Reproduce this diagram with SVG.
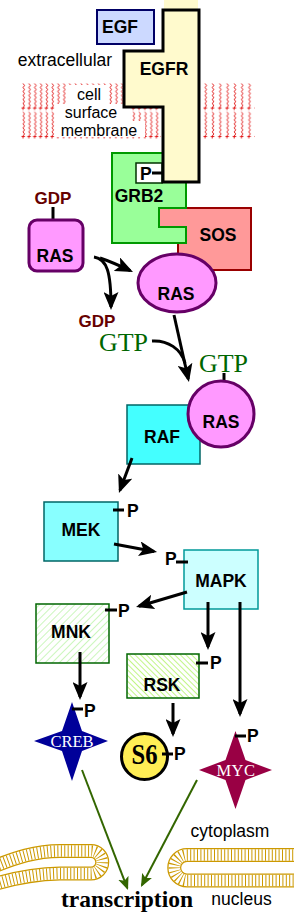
<svg xmlns="http://www.w3.org/2000/svg" width="294" height="920" viewBox="0 0 294 920">
<style>
.lbl{font-family:"Liberation Sans",Arial,sans-serif;font-weight:bold;font-size:17.5px;text-anchor:middle;fill:#000}
.txt{font-family:"Liberation Sans",Arial,sans-serif;font-size:17.5px;text-anchor:middle;fill:#000}
.mem{font-family:"Liberation Sans",Arial,sans-serif;font-size:16px;text-anchor:middle;fill:#000}
.p{font-family:"Liberation Sans",Arial,sans-serif;font-weight:bold;font-size:17.5px;fill:#000}
.tick{stroke:#000;stroke-width:3}
.gdp{font-family:"Liberation Sans",Arial,sans-serif;font-weight:bold;font-size:17px;fill:#660000;text-anchor:middle}
.gtp{font-family:"Liberation Serif","Times New Roman",serif;font-size:26px;fill:#006600}
.star{font-family:"Liberation Serif","Times New Roman",serif;font-size:16.5px;fill:#fff;text-anchor:middle}
.ras{fill:#ff99ff;stroke:#660066;stroke-width:3}
.arr{stroke:#000;stroke-width:3;fill:none;marker-end:url(#ah)}
.line{stroke:#000;stroke-width:3;fill:none}
.garr{stroke:#336600;stroke-width:2;fill:none;marker-end:url(#gh)}
.nuc1{fill:none;stroke:#cc9900;stroke-width:14}
.nuc2{fill:none;stroke:#fff;stroke-width:11.5}
.nuc3{fill:none;stroke:#cc9900;stroke-width:11.5;stroke-dasharray:1 2.4}
</style>
<defs>
<marker id="ah" markerUnits="userSpaceOnUse" markerWidth="18" markerHeight="15" viewBox="0 0 18 15" refX="15" refY="7.5" orient="auto"><path d="M0,0 L18,7.5 L0,15 L4,7.5 z" fill="#000"/></marker>
<marker id="gh" markerUnits="userSpaceOnUse" markerWidth="13" markerHeight="11" viewBox="0 0 13 11" refX="11" refY="5.5" orient="auto"><path d="M0,0 L13,5.5 L0,11 L3,5.5 z" fill="#336600"/></marker>
<pattern id="memL" x="21" y="83" width="5.8" height="28.5" patternUnits="userSpaceOnUse"><path d="M2,0.5 l1.5,2 -1.5,2 1.5,2 -1.5,2 1.5,2 -1.5,2 1.5,2 -1.5,2 1.5,2 -1.5,2 1.5,2 -1.5,2 M0.5,25 h3.5 M2,25 v2" stroke="#dd0000" stroke-width="0.9" fill="none"/></pattern>
<pattern id="memR" x="203" y="83" width="7.3" height="28.5" patternUnits="userSpaceOnUse"><path d="M2,0.5 l1.5,2 -1.5,2 1.5,2 -1.5,2 1.5,2 -1.5,2 1.5,2 -1.5,2 1.5,2 -1.5,2 1.5,2 -1.5,2 M0.5,25 h3.5 M2,25 v2" stroke="#dd0000" stroke-width="0.9" fill="none"/></pattern>
<pattern id="hMNK" width="5" height="5" patternUnits="userSpaceOnUse" patternTransform="rotate(45)"><line x1="0" y1="0" x2="0" y2="5" stroke="#a8f090" stroke-width="1.2"/></pattern>
<pattern id="hRSK" width="4" height="4" patternUnits="userSpaceOnUse" patternTransform="rotate(-45)"><line x1="0" y1="0" x2="0" y2="4" stroke="#99ee33" stroke-width="1.2"/></pattern>
</defs>

<g id="membrane">
<rect x="21" y="83" width="140" height="57" fill="url(#memL)"/>
<rect x="203" y="83" width="52" height="57" fill="url(#memR)"/>
<rect x="66" y="85" width="42" height="19" fill="#fff"/>
<rect x="55" y="104" width="75" height="33" fill="#fff"/>
<rect x="130" y="121" width="15" height="16" fill="#fff"/>
<text class="txt" x="65" y="66">extracellular</text>
<text class="mem" x="89" y="100">cell</text>
<text class="mem" x="91" y="118">surface</text>
<text class="mem" x="99" y="136">membrane</text>
</g>

<g id="egf">
<rect x="97" y="10" width="57" height="34" fill="#ccd9ff" stroke="#000066" stroke-width="2"/>
<text class="lbl" x="120" y="33">EGF</text>
</g>

<g id="sos">
<polygon points="159,208 251,208 251,270 178,270 178,243 186,243 186,227 159,227" fill="#ff9999" stroke="#990000" stroke-width="2"/>
<text class="lbl" x="218" y="241">SOS</text>
</g>

<g id="grb2">
<polygon points="112,153 186,153 186,208 159,208 159,227 186,227 186,243 112,243" fill="#99ff99" stroke="#009900" stroke-width="2"/>
<text class="lbl" x="139" y="202">GRB2</text>
<rect x="136" y="163" width="26" height="20" fill="#fff" stroke="#003300" stroke-width="1.5"/>
<text class="p" x="140" y="180">P</text>
<line class="tick" x1="152" y1="173" x2="164" y2="173"/>
</g>

<g id="egfr">
<rect x="164" y="0" width="34" height="9" fill="#fffacd"/>
<polygon points="163,10 199,10 199,182 163,182 163,107 124,107 124,51 163,51" fill="#fffacd" stroke="#000" stroke-width="3"/>
<text class="lbl" x="164" y="75">EGFR</text>
</g>

<g id="ras-gdp">
<text class="gdp" x="53" y="204">GDP</text>
<line class="line" x1="53" y1="207" x2="53" y2="225"/>
<rect class="ras" x="29" y="220" width="54" height="51" rx="8"/>
<text class="lbl" x="55" y="262">RAS</text>
</g>

<g id="ras">
<ellipse class="ras" cx="177" cy="283" rx="39" ry="29"/>
<text class="lbl" x="176" y="300">RAS</text>
</g>

<g id="gdp">
<text class="gdp" x="97" y="327">GDP</text>
</g>

<g id="gtp">
<text class="gtp" x="99" y="351" textLength="49" lengthAdjust="spacingAndGlyphs">GTP</text>
</g>

<g id="raf">
<rect x="127" y="405" width="73" height="59" fill="#44ffff" stroke="#006666" stroke-width="1.5"/>
<text class="lbl" x="162" y="443">RAF</text>
</g>

<g id="ras-gtp">
<text class="gtp" x="199" y="372" textLength="49" lengthAdjust="spacingAndGlyphs">GTP</text>
<line class="line" x1="224" y1="373" x2="224" y2="391"/>
<circle class="ras" cx="221" cy="414" r="33"/>
<text class="lbl" x="221" y="428">RAS</text>
</g>

<g id="mek">
<rect x="44" y="502" width="74" height="59" fill="#88ffff" stroke="#006666" stroke-width="1.5"/>
<text class="lbl" x="81" y="536">MEK</text>
<line class="tick" x1="113" y1="510" x2="124" y2="510"/>
<text class="p" x="127" y="517">P</text>
</g>

<g id="mapk">
<rect x="184" y="550" width="74" height="59" fill="#ccffff" stroke="#009999" stroke-width="1.5"/>
<text class="lbl" x="221" y="587">MAPK</text>
<text class="p" x="165" y="565">P</text>
<line class="tick" x1="176" y1="562" x2="188" y2="562"/>
</g>

<g id="mnk">
<rect x="36" y="604" width="73" height="59" fill="#fff" stroke="none"/>
<rect x="36" y="604" width="73" height="59" fill="url(#hMNK)" stroke="#006600" stroke-width="1.5"/>
<text class="lbl" x="71" y="638">MNK</text>
<line class="tick" x1="105" y1="610" x2="117" y2="610"/>
<text class="p" x="118" y="617">P</text>
</g>

<g id="rsk">
<rect x="127" y="654" width="72" height="44" fill="#fff" stroke="none"/>
<rect x="127" y="654" width="72" height="44" fill="url(#hRSK)" stroke="#006600" stroke-width="1.5"/>
<text class="lbl" x="162" y="691">RSK</text>
<line class="tick" x1="196" y1="663" x2="208" y2="663"/>
<text class="p" x="210" y="669">P</text>
</g>

<g id="creb">
<polygon points="72,702 82,731 108,741 82,751 72,781 62,751 34,741 62,731" fill="#000099"/>
<text class="star" x="72" y="747">CREB</text>
<line class="tick" x1="72" y1="709" x2="83" y2="709"/>
<text class="p" x="84" y="717">P</text>
</g>

<g id="s6">
<circle cx="144.5" cy="756.5" r="23" fill="#ffee55" stroke="#000" stroke-width="3"/>
<text x="144.5" y="764" font-family="'Liberation Serif','Times New Roman',serif" font-weight="bold" font-size="29" text-anchor="middle" textLength="26" lengthAdjust="spacingAndGlyphs">S6</text>
<line class="tick" x1="162" y1="754" x2="173" y2="754"/>
<text class="p" x="174" y="760">P</text>
</g>

<g id="myc">
<polygon points="235.5,731 245.5,760 272,770 245.5,780 235.5,809 225.5,780 199,770 225.5,760" fill="#990044"/>
<text class="star" x="236" y="776" font-size="17.5" letter-spacing="0.5">MYC</text>
<line class="tick" x1="235" y1="736" x2="246" y2="736"/>
<text class="p" x="247" y="742">P</text>
</g>

<g id="nucleus">
<path class="nuc1" d="M-5,866 C15,858 35,851 60,851 L91,851 A11.25,11.25 0 0 1 91,873.5 L60,873.5 C35,874 15,878 -5,884"/>
<path class="nuc2" d="M-5,866 C15,858 35,851 60,851 L91,851 A11.25,11.25 0 0 1 91,873.5 L60,873.5 C35,874 15,878 -5,884"/>
<path class="nuc3" d="M-5,866 C15,858 35,851 60,851 L91,851 A11.25,11.25 0 0 1 91,873.5 L60,873.5 C35,874 15,878 -5,884"/>
<path class="nuc1" d="M300,855 L187,855 A12.75,12.75 0 0 0 187,880.5 L300,880.5"/>
<path class="nuc2" d="M300,855 L187,855 A12.75,12.75 0 0 0 187,880.5 L300,880.5"/>
<path class="nuc3" d="M300,855 L187,855 A12.75,12.75 0 0 0 187,880.5 L300,880.5"/>
<text class="txt" x="230" y="837">cytoplasm</text>
<text class="txt" x="241.5" y="905">nucleus</text>
<text x="127" y="907" font-family="'Liberation Serif','Times New Roman',serif" font-weight="bold" font-size="23.5" text-anchor="middle" textLength="132" lengthAdjust="spacing">transcription</text>
</g>

<g id="connectors">
<path class="arr" d="M94,257 C107,259 111,272 111,307"/>
<path class="arr" d="M100,258 Q112,262 130.3,270.7"/>
<path class="line" d="M152,341 C168,340 181,349 185,363"/>
<line class="arr" x1="174" y1="315" x2="188.3" y2="379"/>
<line class="arr" x1="132" y1="458" x2="120" y2="490.2"/>
<line class="arr" x1="114" y1="544" x2="154.1" y2="551.5"/>
<line class="arr" x1="187" y1="592" x2="138.9" y2="606.2"/>
<line class="arr" x1="208" y1="602" x2="208" y2="647"/>
<line class="arr" x1="240" y1="602" x2="240" y2="714"/>
<line class="arr" x1="80" y1="652" x2="80" y2="697"/>
<line class="arr" x1="173" y1="703" x2="173" y2="734"/>
<line class="garr" x1="82" y1="770" x2="127.3" y2="888.1"/>
<line class="garr" x1="197" y1="780" x2="141.9" y2="885.2"/>
</g>
</svg>
